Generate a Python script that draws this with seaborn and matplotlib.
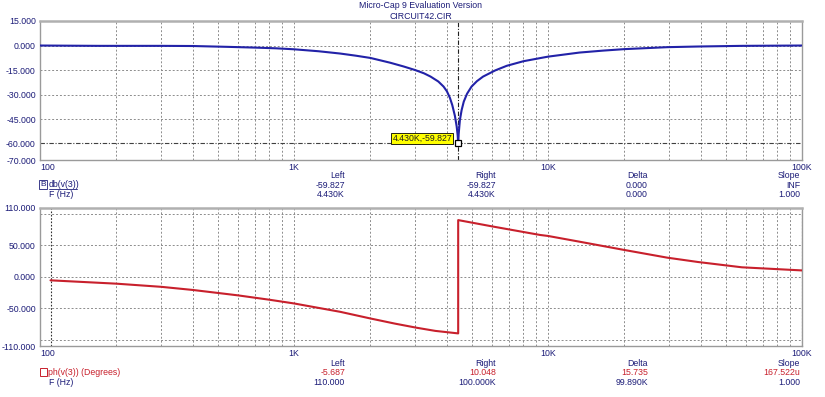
import matplotlib
matplotlib.use("Agg")
import matplotlib.pyplot as plt
import seaborn as sns
import pandas as pd

# ---------------- data ----------------
mag_freq = [100, 170, 300, 400, 545, 715, 850, 1000, 1250, 1520, 1750, 2000, 2390, 2700,
            3000, 3250, 3450, 3700, 3880, 4000, 4110, 4200, 4300, 4370, 4410, 4430,
            4450, 4500, 4570, 4660, 4800, 5000, 5250, 5550, 6200, 6880, 8000, 9300,
            10000, 13300, 16500, 20000, 29500, 39000, 58000, 100000]
mag_db = [0.0, -0.2, -0.2, -0.3, -0.8, -1.3, -1.7, -2.3, -3.5, -4.9, -6.2, -7.6, -10.5, -12.8,
          -15.0, -17.0, -19.0, -22.0, -25.1, -28.0, -32.0, -36.5, -43.0, -49.5, -55.0, -59.827,
          -54.0, -45.5, -39.5, -34.3, -29.5, -25.1, -21.8, -19.0, -15.2, -12.4, -9.6, -7.7,
          -6.8, -4.3, -3.1, -2.2, -1.0, -0.6, -0.2, 0.0]

ph_freq = [110, 200, 300, 400, 600, 800, 1000, 1250, 1520, 2000, 2500, 3040, 3600, 4430, 4430,
           6100, 9300, 10000, 13300, 20000, 29500, 39000, 58000, 100000]
ph_deg = [-5.687, -11.0, -16.0, -21.0, -29.5, -36.5, -42.4, -49.5, -55.7, -66.3, -74.5, -81.0,
          -86.0, -90.0, 90.0, 79.6, 66.4, 64.8, 55.7, 42.5, 30.3, 23.4, 15.0, 10.048]

xtick_vals = [100, 1000, 10000, 100000]
xtick_labels = ["100", "1K", "10K", "100K"]
top_ytick_vals = [15, 0, -15, -30, -45, -60, -70]
top_ytick_labels = ["15.000", "0.000", "-15.000", "-30.000", "-45.000", "-60.000", "-70.000"]
top_ygrid = [0, -15, -30, -45]
bot_ytick_vals = [110, 50, 0, -50, -110]
bot_ytick_labels = ["110.000", "50.000", "0.000", "-50.000", "-110.000"]
bot_ygrid = [100, 50, 0, -50, -100]

cursor_top = (4430, -59.827)
cursor_bot_left = 110
cursor_bot_right = 100000

table_headers = ["Left", "Right", "Delta", "Slope"]
top_row1 = ["-59.827", "-59.827", "0.000", "INF"]
top_row2 = ["4.430K", "4.430K", "0.000", "1.000"]
bot_row1 = ["-5.687", "10.048", "15.735", "167.522u"]
bot_row2 = ["110.000", "100.000K", "99.890K", "1.000"]

# ---------------- style ----------------
sns.set_style("white")
plt.rcParams["font.family"] = ["Liberation Sans", "DejaVu Sans"]
FS = 6.3
NAVY = "#1c1c78"
BLUE = "#2222a8"
RED = "#c8202c"
GRID = "#8c8c8c"

W, H = 825, 397
fig = plt.figure(figsize=(W / 100, H / 100), dpi=100)
fig.patch.set_facecolor("white")


def fx(px):
    return px / W


def fy(py):
    return 1 - py / H


ax1 = fig.add_axes([fx(40), fy(160), 762 / W, 139 / H])
ax2 = fig.add_axes([fx(40), fy(346), 762 / W, 138.5 / H])

df_mag = pd.DataFrame({"f": mag_freq, "db": mag_db})
df_ph = pd.DataFrame({"f": ph_freq, "deg": ph_deg})

grid_f = [m * 10 ** e for e in (2, 3, 4) for m in range(1, 10)][1:]

for ax in (ax1, ax2):
    ax.set_xscale("log")
    ax.set_xlim(100, 100000)
    for g in grid_f:
        ax.axvline(g, color=GRID, lw=0.7, ls=(0, (2, 2)), zorder=1)
    for s in ax.spines.values():
        s.set_color("#9a9a9a")
        s.set_linewidth(1.0)
    ax.spines["top"].set_linewidth(1.8)
    ax.spines["top"].set_color("#b0b0b0")
    ax.set_xticks(xtick_vals)
    ax.set_xticklabels(xtick_labels)
    ax.xaxis.set_minor_locator(matplotlib.ticker.NullLocator())
    ax.tick_params(axis="both", length=0, labelsize=FS, colors=NAVY, pad=2)
    ax.tick_params(axis="y", pad=3)

# top plot
ax1.set_ylim(-70, 15)
for g in top_ygrid:
    ax1.axhline(g, color=GRID, lw=0.7, ls=(0, (2, 2)), zorder=1)
sns.lineplot(data=df_mag, x="f", y="db", ax=ax1, color=BLUE, lw=1.5,
             estimator=None, sort=False, zorder=3)
ax1.axvline(cursor_top[0], color="#202020", lw=0.8, ls=(0, (4, 1.5, 1, 1.5)), zorder=2)
ax1.axhline(cursor_top[1], color="#404040", lw=0.8, ls=(0, (4, 1.5, 1, 1.5)), zorder=2)
ax1.plot([cursor_top[0]], [cursor_top[1]], marker="s", ms=5, mfc="white",
         mec="black", mew=0.9, zorder=5)
ax1.annotate("4.430K,-59.827", xy=cursor_top, xytext=(-6, 5),
             textcoords="offset pixels", ha="right", va="center", fontsize=FS,
             color="#202020",
             bbox=dict(boxstyle="square,pad=0.15", fc="#ffff00", ec="black", lw=0.6),
             zorder=6)
ax1.set_yticks(top_ytick_vals)
ax1.set_yticklabels(top_ytick_labels)
ax1.set_xlabel("")
ax1.set_ylabel("")

# bottom plot
ax2.set_ylim(-110, 110)
for g in bot_ygrid:
    ax2.axhline(g, color=GRID, lw=0.7, ls=(0, (2, 2)), zorder=1)
sns.lineplot(data=df_ph, x="f", y="deg", ax=ax2, color=RED, lw=1.5,
             estimator=None, sort=False, zorder=3)
ax2.axvline(cursor_bot_left, color="#303030", lw=0.8, ls=(0, (1.5, 1.5)), zorder=2)
ax2.axvline(cursor_bot_right, color="#303030", lw=0.8, ls=(0, (1.5, 1.5)), zorder=2)
ax2.set_yticks(bot_ytick_vals)
ax2.set_yticklabels(bot_ytick_labels)
ax2.set_xlabel("")
ax2.set_ylabel("")

for ax in (ax1, ax2):
    lbls = ax.get_xticklabels()
    lbls[0].set_ha("left")
    if ax.get_legend() is not None:
        ax.get_legend().remove()

# titles
fig.text(fx(421), fy(6), "Micro-Cap 9 Evaluation Version", ha="center", va="center",
         fontsize=FS, color=NAVY)
fig.text(fx(421), fy(16.5), "CIRCUIT42.CIR", ha="center", va="center",
         fontsize=FS, color=NAVY)

# tables
cols = [345, 496, 648, 800]


def table(y0, y1, y2, r1, r2, c1):
    for cx, h, a, b in zip(cols, table_headers, r1, r2):
        fig.text(fx(cx), fy(y0), h, ha="right", va="center", fontsize=FS, color=NAVY)
        fig.text(fx(cx), fy(y1), a, ha="right", va="center", fontsize=FS, color=c1)
        fig.text(fx(cx), fy(y2), b, ha="right", va="center", fontsize=FS, color=NAVY)


table(176, 185.7, 194.7, top_row1, top_row2, NAVY)
table(363.3, 372.7, 382.7, bot_row1, bot_row2, RED)

# trace labels
fig.text(fx(42.8), fy(184.5), "B", ha="center", va="center", fontsize=FS - 0.3,
         color=NAVY, bbox=dict(boxstyle="square,pad=0.12", fc="white", ec=NAVY, lw=0.6))
fig.text(fx(48.5), fy(185), "db(v(3))", ha="left", va="center", fontsize=FS, color=NAVY)
fig.add_artist(plt.Line2D([fx(48.5), fx(77)], [fy(189), fy(189)], color=NAVY, lw=0.6))
fig.text(fx(49), fy(194.7), "F (Hz)", ha="left", va="center", fontsize=FS, color=NAVY)

fig.add_artist(plt.Rectangle((fx(39.5), fy(376)), 7 / W, 8 / H, fill=False,
                             ec=RED, lw=0.7))
fig.text(fx(48), fy(372.5), "ph(v(3)) (Degrees)", ha="left", va="center",
         fontsize=FS, color=RED)
fig.text(fx(49), fy(382.7), "F (Hz)", ha="left", va="center", fontsize=FS, color=NAVY)

fig.savefig("out.png", dpi=100, facecolor="white")
